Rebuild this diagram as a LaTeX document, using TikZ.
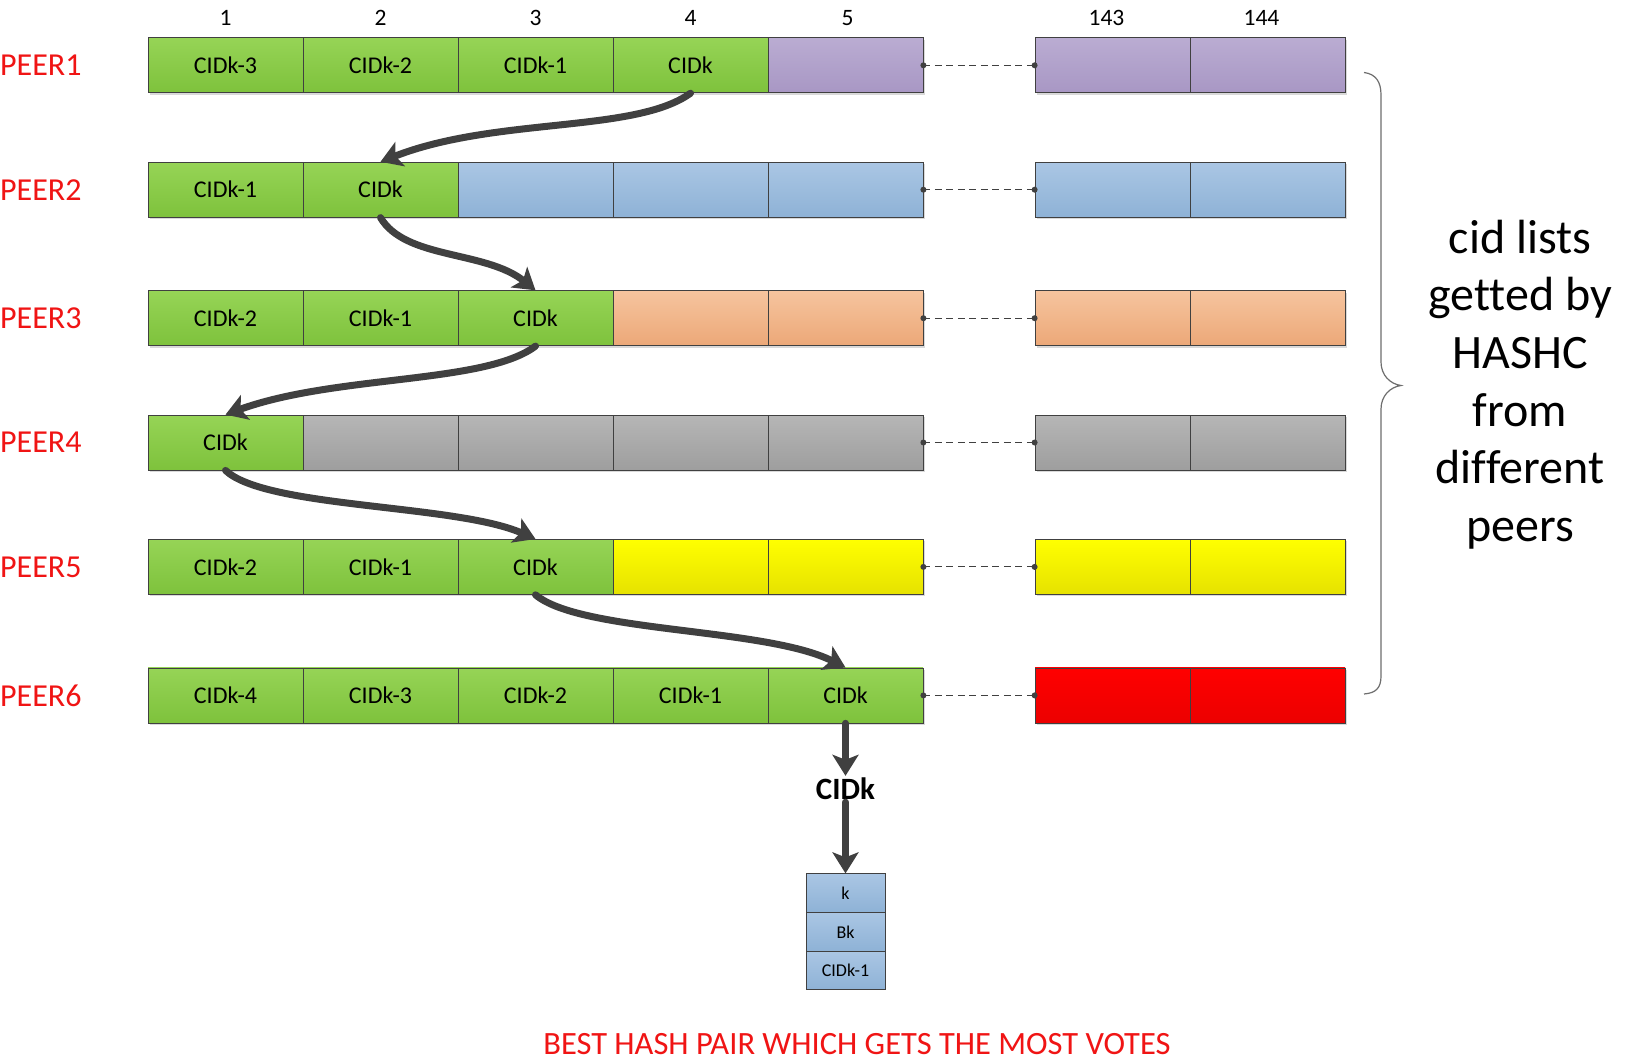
\documentclass[tikz,border=0pt]{standalone}
\usepackage{fontspec}
\setmainfont{Carlito}[Ligatures=NoCommon,RawFeature={-liga;-calt;-clig}]
\usetikzlibrary{arrows.meta,shadows}
\definecolor{cellborder}{RGB}{64,64,64}
\definecolor{arrowgray}{RGB}{64,64,64}
\definecolor{bracegray}{RGB}{110,110,110}
\definecolor{peerred}{RGB}{240,20,20}
\definecolor{gtop}{RGB}{150,212,86}
\definecolor{gbot}{RGB}{126,194,60}
\definecolor{ptop}{RGB}{186,172,210}
\definecolor{pbot}{RGB}{168,151,196}
\definecolor{btop}{RGB}{170,198,228}
\definecolor{bbot}{RGB}{142,178,214}
\definecolor{otop}{RGB}{246,196,158}
\definecolor{obot}{RGB}{236,168,120}
\definecolor{ytop}{RGB}{255,255,0}
\definecolor{ybot}{RGB}{230,226,0}
\definecolor{rtop}{RGB}{255,0,0}
\definecolor{rbot}{RGB}{236,0,0}
\definecolor{ktop}{RGB}{182,182,182}
\definecolor{kbot}{RGB}{158,158,158}
\tikzset{
  cell/.style={draw=cellborder, line width=0.8pt, minimum width=155pt, minimum height=55pt,
    inner sep=0pt, font=\fontsize{24}{28}\selectfont, text=black,
    drop shadow={shadow xshift=1.5pt, shadow yshift=-2pt, fill=black!15, opacity=1}},
  smallcell/.style={draw=cellborder, line width=0.8pt, minimum width=79pt, minimum height=38.7pt,
    inner sep=0pt, font=\fontsize{18}{21}\selectfont, text=black, top color=btop, bottom color=bbot},
  cgreen/.style={top color=gtop, bottom color=gbot},
  cpurple/.style={top color=ptop, bottom color=pbot},
  cblue/.style={top color=btop, bottom color=bbot},
  corange/.style={top color=otop, bottom color=obot},
  cgray/.style={top color=ktop, bottom color=kbot},
  cyellow/.style={top color=ytop, bottom color=ybot},
  cred/.style={top color=rtop, bottom color=rbot},
  peerlabel/.style={anchor=west, inner sep=0pt, text=peerred, font=\fontsize{32}{38}\selectfont},
  colnum/.style={inner sep=0pt, font=\fontsize{23.5}{28}\selectfont},
  flow/.style={draw=arrowgray, line width=7pt, line cap=round,
    -{Stealth[length=21pt, width=26pt, inset=5pt]}},
  gapline/.style={draw=cellborder, line width=1.1pt, dash pattern=on 7pt off 4.5pt},
  gapdot/.style={fill=cellborder},
  bracestyle/.style={draw=bracegray, line width=1.2pt}
}
\begin{document}
\begin{tikzpicture}[x=1pt,y=-1pt]
\useasboundingbox (0,0) rectangle (1625,1063);
\fill[white] (0,0) rectangle (1625,1063);

% column numbers
\node[colnum] (n1) at (225.5,17.6) {1};
\node[colnum] (n2) at (380.5,17.6) {2};
\node[colnum] (n3) at (535.5,17.6) {3};
\node[colnum] (n4) at (690.5,17.6) {4};
\node[colnum] (n5) at (847.5,17.6) {5};
\node[colnum] (n143) at (1106.5,17.6) {143};
\node[colnum] (n144) at (1261.5,17.6) {144};

% PEER1
\node[peerlabel] (l1) at (0,65.3) {PEER1};
\node[cell,cgreen] (p1c1) at (225.5,65.3) {CIDk-3};
\node[cell,cgreen] (p1c2) at (380.5,65.3) {CIDk-2};
\node[cell,cgreen] (p1c3) at (535.5,65.3) {CIDk-1};
\node[cell,cgreen] (p1c4) at (690.5,65.3) {CIDk};
\node[cell,cpurple] (p1c5) at (845.5,65.3) {};
\node[cell,cpurple] (p1a) at (1112.5,65.3) {};
\node[cell,cpurple] (p1b) at (1267.5,65.3) {};

% PEER2
\node[peerlabel] (l2) at (0,189.7) {PEER2};
\node[cell,cgreen] (p2c1) at (225.5,189.7) {CIDk-1};
\node[cell,cgreen] (p2c2) at (380.5,189.7) {CIDk};
\node[cell,cblue] (p2c3) at (535.5,189.7) {};
\node[cell,cblue] (p2c4) at (690.5,189.7) {};
\node[cell,cblue] (p2c5) at (845.5,189.7) {};
\node[cell,cblue] (p2a) at (1112.5,189.7) {};
\node[cell,cblue] (p2b) at (1267.5,189.7) {};

% PEER3
\node[peerlabel] (l3) at (0,318.2) {PEER3};
\node[cell,cgreen] (p3c1) at (225.5,318.2) {CIDk-2};
\node[cell,cgreen] (p3c2) at (380.5,318.2) {CIDk-1};
\node[cell,cgreen] (p3c3) at (535.5,318.2) {CIDk};
\node[cell,corange] (p3c4) at (690.5,318.2) {};
\node[cell,corange] (p3c5) at (845.5,318.2) {};
\node[cell,corange] (p3a) at (1112.5,318.2) {};
\node[cell,corange] (p3b) at (1267.5,318.2) {};

% PEER4
\node[peerlabel] (l4) at (0,442.5) {PEER4};
\node[cell,cgreen] (p4c1) at (225.5,442.5) {CIDk};
\node[cell,cgray] (p4c2) at (380.5,442.5) {};
\node[cell,cgray] (p4c3) at (535.5,442.5) {};
\node[cell,cgray] (p4c4) at (690.5,442.5) {};
\node[cell,cgray] (p4c5) at (845.5,442.5) {};
\node[cell,cgray] (p4a) at (1112.5,442.5) {};
\node[cell,cgray] (p4b) at (1267.5,442.5) {};

% PEER5
\node[peerlabel] (l5) at (0,566.9) {PEER5};
\node[cell,cgreen] (p5c1) at (225.5,566.9) {CIDk-2};
\node[cell,cgreen] (p5c2) at (380.5,566.9) {CIDk-1};
\node[cell,cgreen] (p5c3) at (535.5,566.9) {CIDk};
\node[cell,cyellow] (p5c4) at (690.5,566.9) {};
\node[cell,cyellow] (p5c5) at (845.5,566.9) {};
\node[cell,cyellow] (p5a) at (1112.5,566.9) {};
\node[cell,cyellow] (p5b) at (1267.5,566.9) {};

% PEER6
\node[peerlabel] (l6) at (0,695.4) {PEER6};
\node[cell,cgreen] (p6c1) at (225.5,695.4) {CIDk-4};
\node[cell,cgreen] (p6c2) at (380.5,695.4) {CIDk-3};
\node[cell,cgreen] (p6c3) at (535.5,695.4) {CIDk-2};
\node[cell,cgreen] (p6c4) at (690.5,695.4) {CIDk-1};
\node[cell,cgreen] (p6c5) at (845.5,695.4) {CIDk};
\node[cell,cred] (p6a) at (1112.5,695.4) {};
\node[cell,cred] (p6b) at (1267.5,695.4) {};

% dashed gaps
\foreach \r in {1,...,6}{
  \draw[gapline] (p\r c5.east) -- (p\r a.west);
  \fill[gapdot] (p\r c5.east) circle (3pt);
  \fill[gapdot] (p\r a.west) circle (3pt);
}

% curved flow arrows
\draw[flow] (p1c4.south) .. controls +(-55,40) and +(115,-45) .. (p2c2.north);
\draw[flow] (p2c2.south) .. controls +(25,42) and +(-50,-40) .. (p3c3.north);
\draw[flow] (p3c3.south) .. controls +(-50,38) and +(110,-40) .. (p4c1.north);
\draw[flow] (p4c1.south) .. controls +(40,38) and +(-80,-35) .. (p5c3.north);
\draw[flow] (p5c3.south) .. controls +(45,38) and +(-80,-40) .. (p6c5.north);

% result
\node[inner sep=2pt, font=\fontsize{31}{36}\selectfont\bfseries] (res) at (845.5,789) {CIDk};
\draw[flow] (p6c5.south) -- (res.north);

\node[smallcell] (bk1) at (845.5,893.1) {k};
\node[smallcell] (bk2) at (845.5,931.8) {Bk};
\node[smallcell] (bk3) at (845.5,970.5) {CIDk-1};
\draw[flow] (res.south) -- (bk1.north);

% bottom caption
\node[inner sep=0pt, text=peerred, font=\fontsize{32.5}{38}\selectfont] (cap) at (857,1043.6) {BEST HASH PAIR WHICH GETS THE MOST VOTES};

% brace
\draw[bracestyle] (1364,72.5) .. controls (1376,74) and (1381,82) .. (1381,95)
  -- (1381,362) .. controls (1381,375) and (1390,384) .. (1401,385.5)
  .. controls (1390,387) and (1381,396) .. (1381,409)
  -- (1381,676) .. controls (1381,688) and (1376,693) .. (1364,694);

% side text
\node[align=center, inner sep=0pt, font=\fontsize{48}{57.6}\selectfont] (side) at (1520,384.5)
  {cid lists\\getted by\\HASHC\\from\\different\\peers};
\end{tikzpicture}
\end{document}
